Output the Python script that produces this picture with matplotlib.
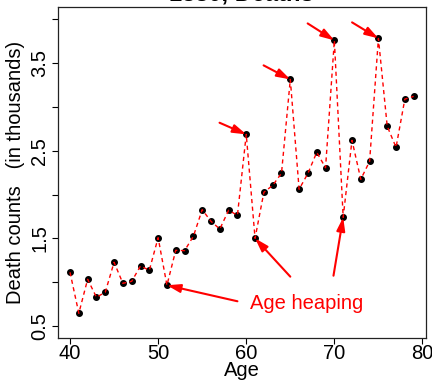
"""Death counts by age (1880) with the age-heaping spikes marked."""

import matplotlib.pyplot as plt

plt.rcParams["font.family"] = ["Liberation Sans", "DejaVu Sans"]

# ---------------------------------------------------------------------------
# Data
# ---------------------------------------------------------------------------

ages = list(range(40, 80))
deaths = [
    1.113, 0.645, 1.033, 0.828, 0.885, 1.227, 0.987, 1.010, 1.185, 1.136,
    1.508, 0.965, 1.364, 1.360, 1.524, 1.828, 1.695, 1.607, 1.821, 1.764,
    2.688, 1.501, 2.026, 2.106, 2.243, 3.316, 2.061, 2.243, 2.483, 2.307,
    3.761, 1.741, 2.620, 2.175, 2.380, 3.784, 2.780, 2.540, 3.091, 3.122,
]

# spikes at round ages (arrows from the upper left)
peak_ages = [60, 65, 70, 75]
peak_tail_x = [56.97, 61.97, 66.97, 72.01]
peak_tail_y = [2.821, 3.476, 3.955, 3.967]

# dips just after round ages (arrows from the label)
dip_ages = [51, 61, 71]
dip_tail_x = [59.0, 65.0, 69.9]
dip_tail_y = [0.782, 1.063, 1.074]

label_text = "Age heaping"
label_x, label_y = 66.9, 0.76

x_ticks = [40, 50, 60, 70, 80]
y_ticks = [0.5, 1.0, 1.5, 2.0, 2.5, 3.0, 3.5, 4.0]
y_ticklabels = ["0.5", "", "1.5", "", "2.5", "", "3.5", ""]

RED = "#FF0000"

# ---------------------------------------------------------------------------
# Plot
# ---------------------------------------------------------------------------

fig = plt.figure(figsize=(4.32, 3.81), dpi=100)
ax = fig.add_axes([57.5 / 432, 43.3 / 381, 368.5 / 432, 331.0 / 381])

value = dict(zip(ages, deaths))

ax.plot(ages, deaths, "o", color="black", ms=4, zorder=3)
ax.plot(ages, deaths, color=RED, lw=1.0, ls=(0, (3, 2.5)), zorder=4)

arrow_kw = dict(arrowstyle="-|>,head_length=0.8,head_width=0.25",
                color=RED, lw=1.5, shrinkA=0, shrinkB=0)
for a, tx, ty in zip(peak_ages, peak_tail_x, peak_tail_y):
    ax.annotate("", xy=(a, value[a]), xytext=(tx, ty),
                arrowprops=arrow_kw, zorder=5)
for a, tx, ty in zip(dip_ages, dip_tail_x, dip_tail_y):
    ax.annotate("", xy=(a, value[a]), xytext=(tx, ty),
                arrowprops=arrow_kw, zorder=5)

ax.text(label_x, label_y, label_text, color=RED, fontsize=14.5,
        ha="center", va="center")

ax.set_xlim(38.58, 80.4)
ax.set_ylim(0.366, 4.146)
ax.set_xticks(x_ticks)
ax.set_yticks(y_ticks)
ax.set_yticklabels(y_ticklabels, rotation=90, va="center")
ax.tick_params(labelsize=14.5, length=4, width=0.8, pad=2)
ax.tick_params(axis="x", pad=0.5)
ax.set_xlabel("Age", fontsize=14.5, labelpad=-1.5)
ax.set_ylabel("Death counts   (in thousands)", fontsize=14.5, labelpad=4)

for spine in ax.spines.values():
    spine.set_linewidth(0.9)
    spine.set_color("#222222")

# title sits mostly above the cropped canvas
fig.text(0.5595, 1 - 0.3 / 381, "1880, Deaths", fontsize=17,
         fontweight="bold", ha="center", va="baseline")

fig.savefig("out.png", dpi=100)
plt.close(fig)
